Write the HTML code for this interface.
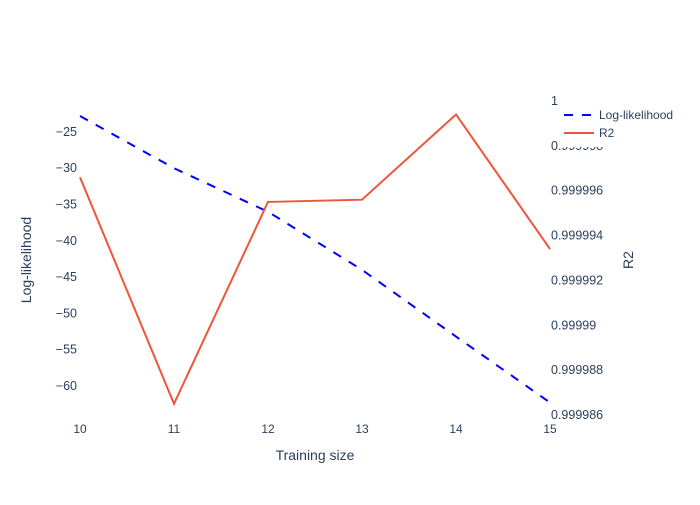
<!DOCTYPE html>
<html><head><meta charset="utf-8"><style>
body{margin:0;background:#fff}
svg text{font-family:"Liberation Sans",sans-serif;fill:#2a3f5f}
</style></head><body>
<svg id="chart" width="700" height="500" xmlns="http://www.w3.org/2000/svg">
<g id="marks"></g><g id="axes"></g>
</svg>
<script>
const xCats=[10,11,12,13,14,15];
const logLik=[-22.8,-30.0,-36.0,-44.0,-53.2,-62.3];
const r2=[0.9999966,0.9999865,0.9999955,0.9999956,0.9999994,0.9999934];
const leftTicks=[-25,-30,-35,-40,-45,-50,-55,-60];
const rightTicks=[1,0.999998,0.999996,0.999994,0.999992,0.99999,0.999988,0.999986];
const rightTickLabels=["1","0.999998","0.999996","0.999994","0.999992","0.99999","0.999988","0.999986"];
const L=80,R=550,T=100,B=420;
const xs=v=>L+(v-10)/5*(R-L);
const yl=v=>T+(-20.6-v)/(-20.6+64.7)*(B-T);
const yr=v=>T+(1.0000000446-v)/(1.0000000446-0.9999857777)*(B-T);
const NS="http://www.w3.org/2000/svg";
function mk(tag,attrs,parent,txt){const e=document.createElementNS(NS,tag);for(const k in attrs)e.setAttribute(k,attrs[k]);if(txt!==undefined)e.textContent=txt;parent.appendChild(e);return e;}
const marks=document.getElementById('marks'),axes=document.getElementById('axes');
let p1=mk('path',{d:'M'+xCats.map((x,i)=>xs(x)+','+yl(logLik[i])).join('L'),fill:'none',stroke:'#0000ff','stroke-width':2,'stroke-dasharray':'9,9'},marks);


let p2=mk('path',{d:'M'+xCats.map((x,i)=>xs(x)+','+yr(r2[i])).join('L'),fill:'none',stroke:'#ef553b','stroke-width':2},marks);


xCats.forEach(v=>{let t=mk('text',{x:xs(v),y:433,'text-anchor':'middle','font-size':12},axes,String(v));

});
leftTicks.forEach(v=>{let t=mk('text',{x:77,y:yl(v)+4,'text-anchor':'end','font-size':12.5},axes,String(v).replace('-','\u2212'));

});
rightTicks.forEach((v,i)=>{let t=mk('text',{x:551,y:yr(v)+4,'text-anchor':'start','font-size':12.5},axes,rightTickLabels[i]);

});
let a=mk('text',{x:315,y:460,'text-anchor':'middle','font-size':14},axes,'Training size');

let b=mk('text',{x:0,y:0,'text-anchor':'middle','font-size':14,transform:'translate(31,260) rotate(-90)'},axes,'Log-likelihood');

let c=mk('text',{x:0,y:0,'text-anchor':'middle','font-size':14,transform:'translate(633,260) rotate(-90)'},axes,'R2');

let lg=mk('g',{},axes);

mk('rect',{x:558,y:105,width:132,height:42,fill:'#fff'},lg);
let e1=mk('g',{},lg);
mk('line',{x1:564,y1:115,x2:594,y2:115,stroke:'#0000ff','stroke-width':2,'stroke-dasharray':'9,9'},e1);
mk('text',{x:599,y:119,'font-size':12},e1,'Log-likelihood');
let e2=mk('g',{},lg);
mk('line',{x1:564,y1:133,x2:594,y2:133,stroke:'#ef553b','stroke-width':2},e2);
mk('text',{x:599,y:137,'font-size':12},e2,'R2');
</script>
</body></html>
